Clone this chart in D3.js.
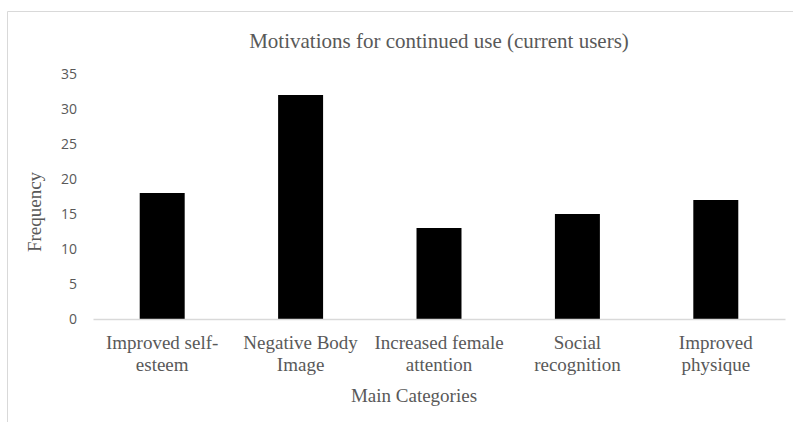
<!DOCTYPE html>
<html>
<head>
<meta charset="utf-8">
<script src="https://cdn.jsdelivr.net/npm/d3@7"></script>
<style>
  html, body { margin: 0; padding: 0; background: #fff; }
  svg { display: block; }
</style>
</head>
<body>
<svg id="chart" width="793" height="422"></svg>
<script>
// Chart data
const categories = [
  ["Improved self-", "esteem"],
  ["Negative Body", "Image"],
  ["Increased female", "attention"],
  ["Social", "recognition"],
  ["Improved", "physique"]
];
const frequencies = [18, 32, 13, 15, 17];
const yTicks = [0, 5, 10, 15, 20, 25, 30, 35];

const titleText = "Motivations for continued use (current users)";
const xTitle = "Main Categories";
const yTitle = "Frequency";

const W = 793, H = 422;
const margin = { left: 93, right: 8, top: 74, bottom: 103 };
const serif = "'Liberation Serif', 'Times New Roman', serif";
const sans = "'Open Sans', 'Liberation Sans', Arial, sans-serif";
const grey = "#595959";

const svg = d3.select("#chart");

// Chart area frame (left and top edges visible)
svg.append("path")
  .attr("d", `M7.5,${H} V11.5 H${W}`)
  .attr("fill", "none")
  .attr("stroke", "#d9d9d9")
  .attr("stroke-width", 1);

const x = d3.scaleBand()
  .domain(d3.range(categories.length))
  .range([margin.left, W - margin.right])
  .paddingInner(0.675)
  .paddingOuter(0.3375);

const y = d3.scaleLinear()
  .domain([0, 35])
  .range([H - margin.bottom, margin.top]);

// Title
svg.append("text")
  .attr("x", 439).attr("y", 48)
  .attr("text-anchor", "middle")
  .style("font-family", serif)
  .style("font-size", "21px")
  .attr("fill", grey)
  .text(titleText);

// Y axis tick labels
const yAxis = d3.axisLeft(y).tickValues(yTicks).tickSize(0).tickPadding(0);
const gy = svg.append("g")
  .attr("transform", `translate(77,0)`)
  .call(yAxis);
gy.select(".domain").remove();
gy.selectAll("text")
  .style("font-family", sans)
  .style("font-size", "14px")
  .attr("fill", grey);

// Bars
svg.append("g").selectAll("rect")
  .data(frequencies)
  .join("rect")
  .attr("x", (d, i) => x(i))
  .attr("y", d => y(d))
  .attr("width", x.bandwidth())
  .attr("height", d => y(0) - y(d))
  .attr("fill", "#000");

// Baseline (category axis)
const xAxis = d3.axisBottom(x).tickSize(0).tickFormat("");
const gx = svg.append("g")
  .attr("transform", `translate(0,${y(0)})`)
  .call(xAxis);
gx.select(".domain")
  .attr("stroke", "#d9d9d9")
  .attr("stroke-width", 1.5);

// Category labels (two lines each)
const labels = svg.append("g").selectAll("text")
  .data(categories)
  .join("text")
  .attr("text-anchor", "middle")
  .style("font-family", serif)
  .style("font-size", "19px")
  .attr("fill", grey);
labels.each(function(lines, i) {
  const t = d3.select(this);
  lines.forEach((ln, k) => {
    t.append("tspan")
      .attr("x", x(i) + x.bandwidth() / 2)
      .attr("y", y(0) + 30 + k * 22)
      .text(ln);
  });
});

// Axis titles
svg.append("text")
  .attr("x", 414).attr("y", 402)
  .attr("text-anchor", "middle")
  .style("font-family", serif)
  .style("font-size", "19px")
  .attr("fill", grey)
  .text(xTitle);

svg.append("text")
  .attr("transform", `translate(41,212) rotate(-90)`)
  .attr("text-anchor", "middle")
  .style("font-family", serif)
  .style("font-size", "19px")
  .attr("fill", grey)
  .text(yTitle);
</script>
</body>
</html>
